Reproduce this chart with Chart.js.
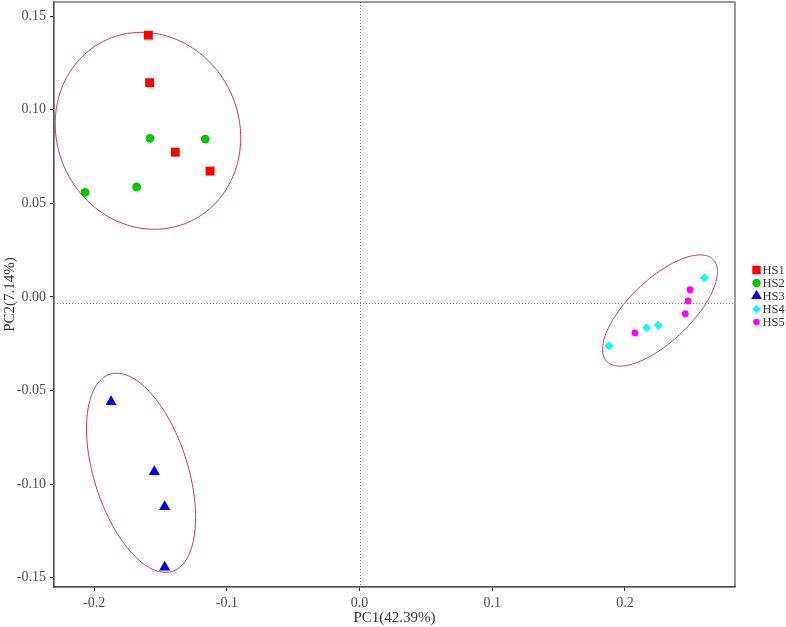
<!DOCTYPE html>
<html>
<head>
<meta charset="utf-8">
<title>PCA</title>
<script src="https://cdn.jsdelivr.net/npm/chart.js@4/dist/chart.umd.min.js"></script>
<style>
  html, body { margin: 0; padding: 0; background: #fff; }
  #wrap { width: 786px; height: 627px; position: relative; }
</style>
</head>
<body>
<div id="wrap"><canvas id="pca"></canvas></div>
<script>
// PC1 / PC2 scores per group
const groups = ['HS1', 'HS2', 'HS3', 'HS4', 'HS5'];
const hs1 = [[-0.1592, 0.1398], [-0.1582, 0.1144], [-0.1389, 0.0773], [-0.1127, 0.0672]];
const hs2 = [[-0.1580, 0.0847], [-0.1163, 0.0843], [-0.1680, 0.0587], [-0.2069, 0.0558]];
const hs3 = [[-0.1873, -0.0560], [-0.1547, -0.0934], [-0.1469, -0.1121], [-0.1469, -0.1445]];
const hs4 = [[0.2598, 0.0102], [0.2251, -0.0152], [0.2163, -0.0165], [0.1879, -0.0261]];
const hs5 = [[0.2490, 0.0038], [0.2475, -0.0022], [0.2454, -0.0090], [0.2075, -0.0193]];

// cluster ellipses: centre, spread along each axis, correlation
const ellipseCx = [-0.1595, -0.1647, 0.2264];
const ellipseCy = [0.0887, -0.0940, -0.0073];
const ellipseSx = [0.0699, 0.0411, 0.0433];
const ellipseSy = [0.0526, 0.0532, 0.0297];
const ellipseRho = [-0.07, -0.447, 0.699];

const xTicks = [-0.2, -0.1, 0.0, 0.1, 0.2];
const yTicks = [-0.15, -0.10, -0.05, 0.00, 0.05, 0.10, 0.15];
const xRange = [-0.2303, 0.2829];
const yRange = [-0.1550, 0.1575];
const refX = 0.0;
const refY = -0.0035;

const colors = ['#ff0000', '#00c800', '#0000ff', '#00ffff', '#ff00ff'];
const shapes = ['rect', 'circle', 'triangle', 'rectRot', 'circle'];
const radii = [6.3, 4.4, 6.5, 4.5, 3.4];
const serif = '"Liberation Serif", "DejaVu Serif", serif';

const toPoints = arr => arr.map(p => ({ x: p[0], y: p[1] }));
const series = [hs1, hs2, hs3, hs4, hs5];

const datasets = groups.map((g, i) => ({
  label: g,
  data: toPoints(series[i]),
  pointStyle: shapes[i],
  pointRadius: radii[i],
  pointHoverRadius: radii[i],
  backgroundColor: colors[i],
  borderColor: colors[i],
  borderWidth: 0
}));

const ellipsePlugin = {
  id: 'ellipses',
  beforeDatasetsDraw(chart) {
    const { ctx, scales: { x, y }, chartArea } = chart;
    ctx.save();
    ctx.beginPath();
    ctx.rect(chartArea.left, chartArea.top, chartArea.right - chartArea.left, chartArea.bottom - chartArea.top);
    ctx.clip();

    // dotted reference lines
    ctx.strokeStyle = '#777';
    ctx.lineWidth = 1;
    ctx.setLineDash([1, 2]);
    ctx.beginPath();
    const px = Math.round(x.getPixelForValue(refX)) + 0.5;
    const py = Math.round(y.getPixelForValue(refY)) + 0.5;
    ctx.moveTo(px, chartArea.top);
    ctx.lineTo(px, chartArea.bottom);
    ctx.moveTo(chartArea.left, py);
    ctx.lineTo(chartArea.right, py);
    ctx.stroke();
    ctx.setLineDash([]);

    ctx.strokeStyle = '#d2325a';
    ctx.lineWidth = 1;
    for (let i = 0; i < ellipseCx.length; i++) {
      const r = ellipseRho[i];
      const k = Math.sqrt(1 - r * r);
      ctx.beginPath();
      for (let s = 0; s <= 200; s++) {
        const t = s / 200 * Math.PI * 2;
        const vx = ellipseCx[i] + ellipseSx[i] * Math.cos(t);
        const vy = ellipseCy[i] + ellipseSy[i] * (r * Math.cos(t) + k * Math.sin(t));
        const X = x.getPixelForValue(vx);
        const Y = y.getPixelForValue(vy);
        if (s === 0) ctx.moveTo(X, Y); else ctx.lineTo(X, Y);
      }
      ctx.closePath();
      ctx.stroke();
    }
    ctx.restore();
  },
  afterDraw(chart) {
    const { ctx, chartArea } = chart;
    ctx.save();
    // panel box
    ctx.strokeStyle = '#555';
    ctx.lineWidth = 1.2;
    ctx.strokeRect(chartArea.left, chartArea.top, chartArea.right - chartArea.left, chartArea.bottom - chartArea.top);

    // legend on the right
    const lx = 756.5, ly = 270, step = 13;
    ctx.font = '12.5px ' + serif;
    ctx.textBaseline = 'middle';
    groups.forEach((g, i) => {
      const yy = ly + i * step;
      ctx.fillStyle = colors[i];
      ctx.strokeStyle = colors[i];
      Chart.helpers.drawPoint(ctx, { pointStyle: shapes[i], radius: radii[i] * 0.95, borderWidth: 0 }, lx, yy);
      ctx.fillStyle = '#333';
      ctx.fillText(g, lx + 6, yy + 0.5);
    });
    ctx.restore();
  }
};

new Chart(document.getElementById('pca'), {
  type: 'scatter',
  data: { datasets },
  options: {
    responsive: true,
    maintainAspectRatio: false,
    animation: false,
    // no automatic room for point overflow, the panel sits at the top edge
    layout: { autoPadding: false, padding: { left: 0, top: 2, right: 51, bottom: 0 } },
    plugins: {
      legend: { display: false },
      tooltip: { enabled: false }
    },
    scales: {
      x: {
        type: 'linear',
        min: xRange[0],
        max: xRange[1],
        afterBuildTicks: s => { s.ticks = xTicks.map(v => ({ value: v })); },
        afterFit: s => { s.height = 40; s.paddingLeft = 0; s.paddingRight = 0; },
        grid: { drawOnChartArea: false, tickLength: 4, tickColor: '#333' },
        border: { color: '#555', width: 1.2 },
        ticks: {
          color: '#4d4d4d',
          font: { family: serif, size: 14 },
          padding: 4,
          maxRotation: 0,
          callback: v => v.toFixed(1)
        },
        title: {
          display: true,
          text: 'PC1(42.39%)',
          color: '#333',
          font: { family: serif, size: 15 },
          padding: { top: 0, bottom: 0 }
        }
      },
      y: {
        type: 'linear',
        min: yRange[0],
        max: yRange[1],
        afterBuildTicks: s => { s.ticks = yTicks.map(v => ({ value: v })); },
        afterFit: s => { s.width = 54; s.paddingTop = 0; s.paddingBottom = 0; },
        grid: { drawOnChartArea: false, tickLength: 4, tickColor: '#333' },
        border: { color: '#555', width: 1.2 },
        ticks: {
          color: '#4d4d4d',
          font: { family: serif, size: 14 },
          padding: 4,
          callback: v => v.toFixed(2)
        },
        title: {
          display: true,
          text: 'PC2(7.14%)',
          color: '#333',
          font: { family: serif, size: 15 },
          padding: { top: 1, bottom: 0 }
        }
      }
    }
  },
  plugins: [ellipsePlugin]
});
</script>
</body>
</html>
